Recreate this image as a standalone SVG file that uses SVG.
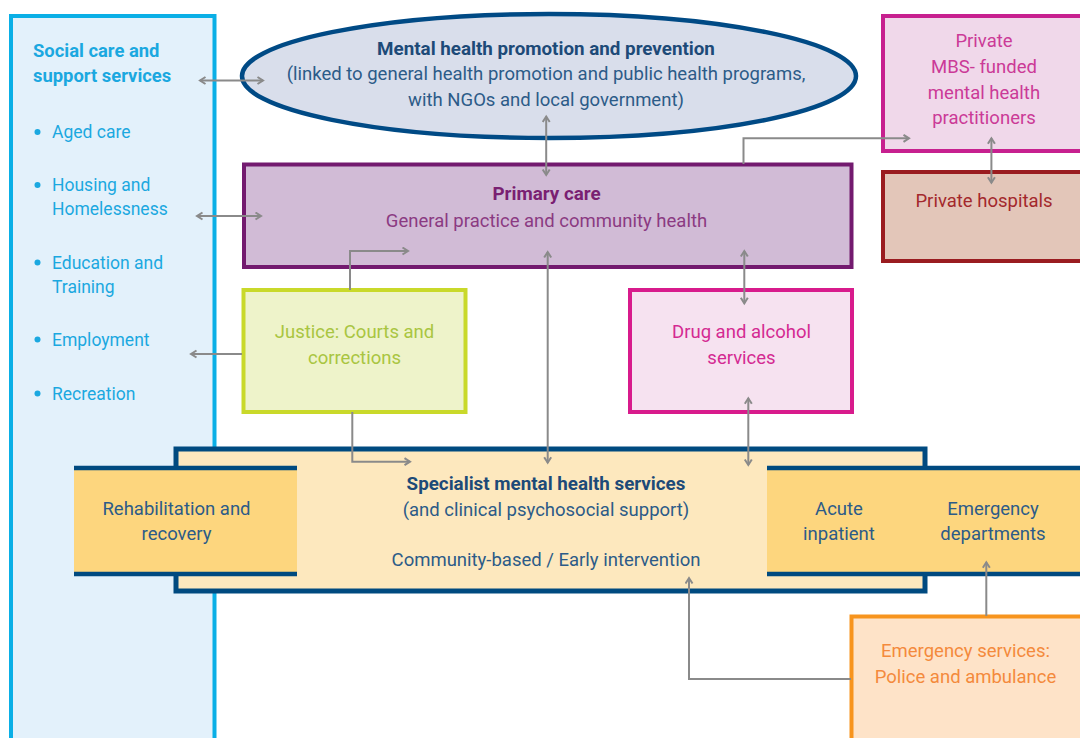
<svg xmlns="http://www.w3.org/2000/svg" width="1080" height="738" viewBox="0 0 1080 738">
<style>
text{font-family:Roboto,"Liberation Sans",sans-serif;font-size:18.5px}
.b{font-weight:bold;font-size:18.8px}
.m{text-anchor:middle}
.soc{fill:#1BA8E0;font-size:17.5px}
.sb{fill:#1BA8E0;font-weight:bold;font-size:18.4px}
.blue{fill:#2C5B88}
.blueb{fill:#1D4A78}
.conn{fill:none;stroke:#8A8A8A;stroke-width:2}
.bar{stroke:#004A80;stroke-width:4.5}
</style>
<defs>
<marker id="ah" markerUnits="userSpaceOnUse" markerWidth="10" markerHeight="10" refX="7" refY="4.5" orient="auto-start-reverse">
<path d="M1.5,1 L7,4.5 L1.5,8" fill="none" stroke="#8A8A8A" stroke-width="2"/>
</marker>
</defs>
<rect width="1080" height="738" fill="#FFFFFF"/>

<g id="social">
<rect x="11" y="16" width="203.5" height="740" fill="#E3F1FB" stroke="#0AAFE6" stroke-width="4"/>
<text x="33" y="56.5" class="sb">Social care and</text>
<text x="33" y="82" class="sb">support services</text>
<g fill="#1BA8E0">
<circle cx="37.5" cy="132" r="3"/>
<circle cx="37.5" cy="185" r="3"/>
<circle cx="37.5" cy="262.5" r="3"/>
<circle cx="37.5" cy="339.5" r="3"/>
<circle cx="37.5" cy="393.5" r="3"/>
</g>
<text x="52" y="138" class="soc">Aged care</text>
<text x="52" y="191" class="soc">Housing and</text>
<text x="52" y="215" class="soc">Homelessness</text>
<text x="52" y="269" class="soc">Education and</text>
<text x="52" y="293" class="soc">Training</text>
<text x="52" y="346" class="soc">Employment</text>
<text x="52" y="399.5" class="soc">Recreation</text>
</g>

<g id="promotion">
<ellipse cx="549" cy="76" rx="307" ry="62" fill="#D9DEEB" stroke="#004A85" stroke-width="4.5"/>
<text x="546" y="54.5" class="m b blueb">Mental health promotion and prevention</text>
<text x="546" y="80" class="m blue">(linked to general health promotion and public health programs,</text>
<text x="546" y="105.5" class="m blue">with NGOs and local government)</text>
</g>

<g id="primary">
<rect x="244" y="164.5" width="607.5" height="102.5" fill="#D1BBD6" stroke="#731A6F" stroke-width="4"/>
<text x="546.5" y="200" class="m b" fill="#7A1F72">Primary care</text>
<text x="546.5" y="226.5" class="m" fill="#8B3A82">General practice and community health</text>
</g>

<g id="private-mbs">
<rect x="883" y="16" width="210" height="135" fill="#F0D8EA" stroke="#C7208F" stroke-width="4"/>
<text x="984" y="46.5" class="m" fill="#CB3A97">Private</text>
<text x="984" y="72.5" class="m" fill="#CB3A97">MBS- funded</text>
<text x="984" y="98.5" class="m" fill="#CB3A97">mental health</text>
<text x="984" y="124" class="m" fill="#CB3A97">practitioners</text>
</g>

<g id="private-hospitals">
<rect x="883" y="172" width="210" height="89" fill="#E3C6B9" stroke="#9A1C20" stroke-width="4"/>
<text x="984" y="206.5" class="m" fill="#A3282C">Private hospitals</text>
</g>

<g id="justice">
<rect x="243.5" y="290" width="222" height="122" fill="#EEF3CA" stroke="#C9D92A" stroke-width="4"/>
<text x="354.5" y="338" class="m" fill="#A9C541">Justice: Courts and</text>
<text x="354.5" y="364" class="m" fill="#A9C541">corrections</text>
</g>

<g id="drug">
<rect x="630" y="290" width="222" height="122" fill="#F6E2F0" stroke="#D81B8C" stroke-width="4"/>
<text x="741.5" y="337.5" class="m" fill="#D42A92">Drug and alcohol</text>
<text x="741.5" y="363.5" class="m" fill="#D42A92">services</text>
</g>

<g id="specialist">
<rect x="176" y="449" width="749" height="142" fill="#FDE8BE" stroke="#004A80" stroke-width="5"/>
<text x="546" y="489.5" class="m b blueb">Specialist mental health services</text>
<text x="546" y="515.5" class="m blue">(and clinical psychosocial support)</text>
<text x="546" y="565.5" class="m blue">Community-based / Early intervention</text>
</g>

<g id="rehab">
<rect x="74" y="468" width="223" height="106" fill="#FDD67E"/>
<line x1="74" y1="468" x2="297" y2="468" class="bar"/>
<line x1="74" y1="574" x2="297" y2="574" class="bar"/>
<text x="176.5" y="514.5" class="m blue">Rehabilitation and</text>
<text x="176.5" y="540" class="m blue">recovery</text>
</g>

<g id="acute-emergency">
<rect x="767" y="468" width="320" height="106" fill="#FDD67E"/>
<line x1="767" y1="468" x2="1085" y2="468" class="bar"/>
<line x1="767" y1="574" x2="1085" y2="574" class="bar"/>
<text x="839" y="514.5" class="m blue">Acute</text>
<text x="839" y="540" class="m blue">inpatient</text>
<text x="993" y="514.5" class="m blue">Emergency</text>
<text x="993" y="540" class="m blue">departments</text>
</g>

<g id="emergency-services">
<rect x="851.5" y="616.5" width="240" height="140" fill="#FEE3C8" stroke="#F7941D" stroke-width="4"/>
<text x="965.5" y="657" class="m" fill="#F48A3C">Emergency services:</text>
<text x="965.5" y="683" class="m" fill="#F48A3C">Police and ambulance</text>
</g>

<g id="connectors" class="conn">
<line x1="200" y1="80.5" x2="263" y2="80.5" marker-start="url(#ah)" marker-end="url(#ah)"/>
<line x1="197" y1="216" x2="261" y2="216" marker-start="url(#ah)" marker-end="url(#ah)"/>
<line x1="546.2" y1="116.5" x2="546.2" y2="175" marker-start="url(#ah)" marker-end="url(#ah)"/>
<polyline points="743.5,164 743.5,138.3 909,138.3" marker-end="url(#ah)"/>
<line x1="991.4" y1="138.3" x2="991.4" y2="182.7" marker-start="url(#ah)" marker-end="url(#ah)"/>
<polyline points="350,290 350,251 408,251" marker-end="url(#ah)"/>
<line x1="242" y1="354" x2="191" y2="354" marker-end="url(#ah)"/>
<polyline points="352.3,412 352.3,461.7 410,461.7" marker-end="url(#ah)"/>
<line x1="547.7" y1="252" x2="547.7" y2="462.7" marker-start="url(#ah)" marker-end="url(#ah)"/>
<line x1="744.3" y1="251" x2="744.3" y2="303.3" marker-start="url(#ah)" marker-end="url(#ah)"/>
<line x1="748.3" y1="398.3" x2="748.3" y2="465" marker-start="url(#ah)" marker-end="url(#ah)"/>
<polyline points="851,679 689,679 689,578" marker-end="url(#ah)"/>
<line x1="986.3" y1="616" x2="986.3" y2="562.3" marker-end="url(#ah)"/>
</g>
</svg>
